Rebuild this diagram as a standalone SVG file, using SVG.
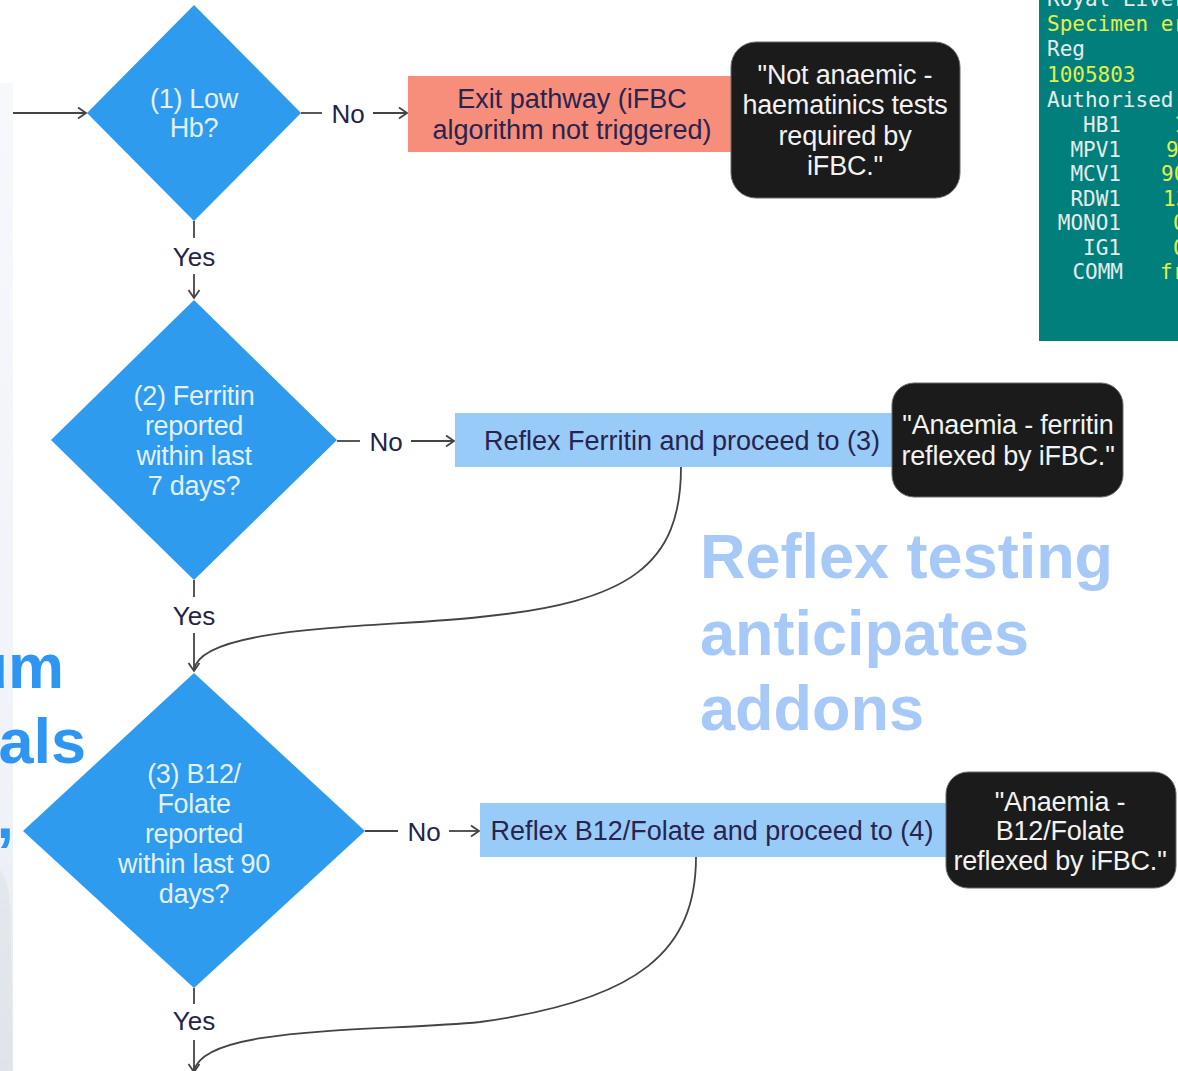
<svg xmlns="http://www.w3.org/2000/svg" width="1178" height="1071" viewBox="0 0 1178 1071">
<defs>
<marker id="arr" markerWidth="14" markerHeight="14" refX="11" refY="7" orient="auto" markerUnits="userSpaceOnUse">
<path d="M3,1.5 L11,7 L3,12.5" fill="none" stroke="#444" stroke-width="1.8"/>
</marker>
<linearGradient id="panel" x1="0" y1="0" x2="0" y2="1">
<stop offset="0" stop-color="#f6f8fc"/>
<stop offset="0.75" stop-color="#eff2f7"/>
<stop offset="1" stop-color="#e2e7ee"/>
</linearGradient>
<style>
.dia{fill:#2e9bee}
.dt{font-family:"Liberation Sans",Arial,sans-serif;font-size:27px;fill:#e4f1fd;text-anchor:middle;letter-spacing:-0.3px}
.bt{font-family:"Liberation Sans",Arial,sans-serif;font-size:27px;fill:#28234f;text-anchor:middle}
.wt{font-family:"Liberation Sans",Arial,sans-serif;font-size:27px;fill:#f2f2f2;text-anchor:middle;letter-spacing:-0.2px}
.lbl{font-family:"Liberation Sans",Arial,sans-serif;font-size:26px;fill:#23244a;text-anchor:middle}
.ln{stroke:#444;stroke-width:1.8;fill:none}
.blk{fill:#1b1b1b;stroke:#6a6a6a;stroke-width:1}
.rb{fill:#99cbf8}
.big{font-family:"Liberation Sans",Arial,sans-serif;font-size:63px;font-weight:bold}
.mono{font-family:"DejaVu Sans Mono","Liberation Mono",monospace;font-size:21px}
.w{fill:#e4ecec}
.y{fill:#e3ee4a}
</style>
</defs>
<rect width="1178" height="1071" fill="#ffffff"/>

<!-- left backdrop panel -->
<g id="left-panel">
<rect x="0" y="83" width="13" height="988" fill="url(#panel)"/>
<path d="M0,870 C8,880 12,900 11,940 L12,1071 L0,1071 Z" fill="#dde2e8" opacity="0.6"/>
<text class="big" x="64" y="688" text-anchor="end" fill="#2f95f3">um</text>
<text class="big" x="86" y="763" text-anchor="end" fill="#2f95f3">als</text>
<text class="big" x="14" y="838" text-anchor="end" fill="#2f95f3">,</text>
</g>

<!-- terminal screen -->
<g id="screen">
<rect x="1039" y="0" width="139" height="341" fill="#007f7d"/>
<text class="mono w" x="1047" y="6">Royal Liver</text>
<text class="mono y" x="1047" y="31">Specimen er</text>
<text class="mono w" x="1047" y="56">Reg</text>
<text class="mono y" x="1047" y="82">1005803</text>
<text class="mono w" x="1047" y="107">Authorised</text>
<g class="mono w" text-anchor="end">
<text x="1121" y="132">HB1</text>
<text x="1121" y="157">MPV1</text>
<text x="1121" y="181">MCV1</text>
<text x="1121" y="206">RDW1</text>
<text x="1121" y="230">MONO1</text>
<text x="1121" y="255">IG1</text>
<text x="1123" y="279">COMM</text>
</g>
<g class="mono y">
<text x="1174" y="132">1</text>
<text x="1166" y="157">9</text>
<text x="1161" y="181">90</text>
<text x="1163" y="206">13</text>
<text x="1173" y="230">0</text>
<text x="1173" y="255">0</text>
<text x="1160" y="279">fr</text>
</g>
</g>

<!-- overlay caption -->
<g id="caption">
<text class="big" x="700" y="578" fill="#a7c9f8">Reflex testing</text>
<text class="big" x="700" y="655" fill="#a7c9f8">anticipates</text>
<text class="big" x="700" y="730" fill="#a7c9f8">addons</text>
</g>

<!-- connectors -->
<g id="connectors">
<line class="ln" x1="13" y1="113" x2="86" y2="113" marker-end="url(#arr)"/>
<line class="ln" x1="301" y1="113" x2="322" y2="113"/>
<text class="lbl" x="348" y="123">No</text>
<line class="ln" x1="373" y1="113" x2="407" y2="113" marker-end="url(#arr)"/>
<line class="ln" x1="194" y1="221" x2="194" y2="238"/>
<text class="lbl" x="194" y="266">Yes</text>
<line class="ln" x1="194" y1="274" x2="194" y2="298" marker-end="url(#arr)"/>

<line class="ln" x1="337" y1="441" x2="360" y2="441"/>
<text class="lbl" x="386" y="451">No</text>
<line class="ln" x1="411" y1="441" x2="454" y2="441" marker-end="url(#arr)"/>
<line class="ln" x1="194" y1="580" x2="194" y2="597"/>
<text class="lbl" x="194" y="625">Yes</text>
<line class="ln" x1="194" y1="633" x2="194" y2="671" marker-end="url(#arr)"/>
<path class="ln" d="M681,467 C681,565 630,602 480,617 C380,628 200,625 194,670"/>

<line class="ln" x1="365" y1="831" x2="398" y2="831"/>
<text class="lbl" x="424" y="841">No</text>
<line class="ln" x1="449" y1="831" x2="479" y2="831" marker-end="url(#arr)"/>
<line class="ln" x1="194" y1="988" x2="194" y2="1004"/>
<text class="lbl" x="194" y="1030">Yes</text>
<line class="ln" x1="194" y1="1040" x2="194" y2="1072" marker-end="url(#arr)"/>
<path class="ln" d="M696,857 C696,950 640,1000 480,1022 C380,1032 200,1025 194,1072"/>
</g>

<!-- nodes -->
<g id="d1">
<polygon class="dia" points="194,5 301,113 194,221 87,113"/>
<text class="dt" x="194" y="108">(1) Low</text>
<text class="dt" x="194" y="137">Hb?</text>
</g>
<g id="exit">
<rect x="408" y="76" width="327" height="76" fill="#f68e7b"/>
<text class="bt" x="572" y="108">Exit pathway (iFBC</text>
<text class="bt" x="572" y="139">algorithm not triggered)</text>
</g>
<g id="msg1">
<rect class="blk" x="731" y="42" width="229" height="156" rx="25"/>
<text class="wt" x="845" y="84">"Not anaemic -</text>
<text class="wt" x="845" y="114">haematinics tests</text>
<text class="wt" x="845" y="145">required by</text>
<text class="wt" x="845" y="175">iFBC."</text>
</g>

<g id="d2">
<polygon class="dia" points="194,300 337,440 194,580 51,440"/>
<text class="dt" x="194" y="405">(2) Ferritin</text>
<text class="dt" x="194" y="435">reported</text>
<text class="dt" x="194" y="465">within last</text>
<text class="dt" x="194" y="495">7 days?</text>
</g>
<g id="reflex-ferritin">
<rect class="rb" x="455" y="413" width="440" height="54"/>
<text class="bt" x="682" y="450">Reflex Ferritin and proceed to (3)</text>
</g>
<g id="msg2">
<rect class="blk" x="892" y="383" width="231" height="114" rx="22"/>
<text class="wt" x="1008" y="434">"Anaemia - ferritin</text>
<text class="wt" x="1008" y="465">reflexed by iFBC."</text>
</g>

<g id="d3">
<polygon class="dia" points="194,673 365,831 194,988 23,831"/>
<text class="dt" x="194" y="783">(3) B12/</text>
<text class="dt" x="194" y="813">Folate</text>
<text class="dt" x="194" y="843">reported</text>
<text class="dt" x="194" y="873">within last 90</text>
<text class="dt" x="194" y="903">days?</text>
</g>
<g id="reflex-b12">
<rect class="rb" x="480" y="803" width="468" height="54"/>
<text class="bt" x="712" y="840">Reflex B12/Folate and proceed to (4)</text>
</g>
<g id="msg3">
<rect class="blk" x="946" y="772" width="230" height="116" rx="22"/>
<text class="wt" x="1060" y="811">"Anaemia -</text>
<text class="wt" x="1060" y="840">B12/Folate</text>
<text class="wt" x="1060" y="870">reflexed by iFBC."</text>
</g>
</svg>
